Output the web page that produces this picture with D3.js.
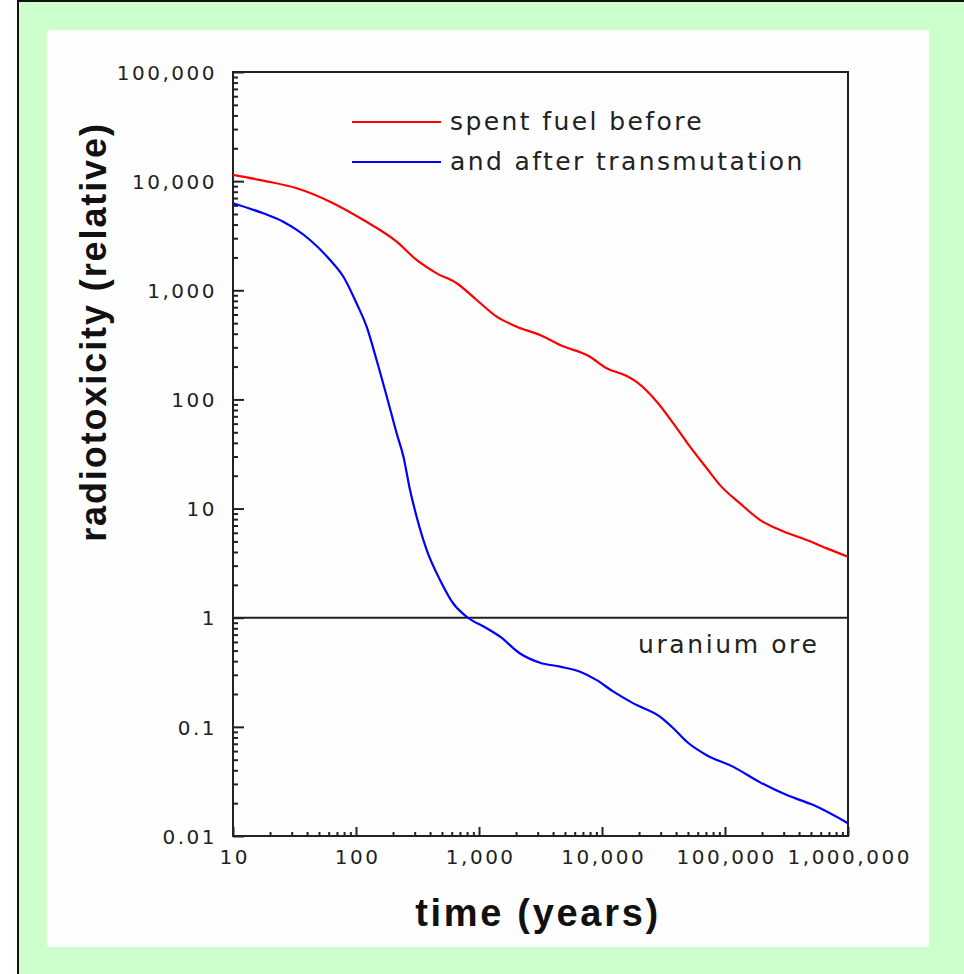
<!DOCTYPE html>
<html>
<head>
<meta charset="utf-8">
<script src="https://cdn.jsdelivr.net/npm/d3@7"></script>
<style>
  html, body { margin: 0; padding: 0; background: #fff; }
  svg { display: block; }
</style>
</head>
<body>
<svg id="chart" width="964" height="974"></svg>
<script>
// Radiotoxicity of spent fuel (relative to uranium ore) versus time
const beforeYears = [10, 17.6, 33, 61.5, 115, 214, 311, 453, 659, 958, 1393, 2026, 3135, 4560, 7980,
  10900, 15900, 19100, 27900, 38000, 51900, 71000, 91000, 132000, 193000, 280000, 461000, 671000, 1000000];
const beforeValues = [11400, 10100, 8600, 6480, 4400, 2790, 1895, 1430, 1160, 815, 573, 464, 389, 315, 246,
  193, 164, 145, 95.3, 60.4, 36.9, 23.4, 16.4, 11.2, 7.85, 6.36, 5.15, 4.32, 3.62];

const afterYears = [10, 17.6, 25.6, 33, 42.3, 61.5, 79, 101, 122, 147, 178, 214, 243, 275, 311, 376, 482, 618, 794,
  1155, 1483, 2155, 3135, 4560, 6630, 9060, 12400, 18000, 29600, 38000, 48900, 71000, 117000, 193000,
  318000, 523000, 1000000];
const afterValues = [6270, 5070, 4250, 3570, 2890, 1895, 1330, 760, 464, 230, 106, 49, 29.9, 14.8, 8.42, 4.17, 2.22,
  1.35, 1.02, 0.80, 0.67, 0.47, 0.387, 0.356, 0.32, 0.268, 0.21, 0.164, 0.124, 0.097, 0.073, 0.055, 0.043,
  0.031, 0.0237, 0.0192, 0.0131];

const xTickValues = [10, 100, 1000, 10000, 100000, 1000000];
const xTickLabels = ["10", "100", "1,000", "10,000", "100,000", "1,000,000"];
const yTickValues = [0.01, 0.1, 1, 10, 100, 1000, 10000, 100000];
const yTickLabels = ["0.01", "0.1", "1", "10", "100", "1,000", "10,000", "100,000"];

const seriesNames = ["spent fuel before", "and after transmutation"];
const seriesColors = ["#ff0000", "#0000ff"];
const referenceLevel = 1;
const referenceLabel = "uranium ore";
const xTitle = "time (years)";
const yTitle = "radiotoxicity (relative)";

const svg = d3.select("#chart");
const W = 964, H = 974;

// page frame: green surround with a white panel
svg.append("rect").attr("x", 0).attr("y", 0).attr("width", W).attr("height", H).attr("fill", "#fff");
svg.append("rect").attr("x", 18).attr("y", 1).attr("width", 960).attr("height", 990)
  .attr("fill", "#ccffcc").attr("stroke", "#111").attr("stroke-width", 2);
svg.append("rect").attr("x", 47).attr("y", 30).attr("width", 882).attr("height", 917).attr("fill", "#fefefe");

const plot = { left: 233, right: 848, top: 72, bottom: 836 };

const x = d3.scaleLog().domain([10, 1e6]).range([plot.left, plot.right]);
const y = d3.scaleLog().domain([0.01, 1e5]).range([plot.bottom, plot.top]);

function minorTicks(domain) {
  const out = [];
  const lo = Math.round(Math.log10(domain[0])), hi = Math.round(Math.log10(domain[1]));
  for (let e = lo; e < hi; e++) {
    for (let k = 2; k <= 9; k++) out.push(k * Math.pow(10, e));
  }
  return out;
}

const tickFont = "'DejaVu Sans', Verdana, sans-serif";
const axisColor = "#222";

// minor ticks (inside the plot)
svg.append("g")
  .attr("transform", `translate(${plot.left},0)`)
  .call(d3.axisLeft(y).tickValues(minorTicks(y.domain())).tickSizeInner(-5).tickSizeOuter(0).tickFormat(""))
  .call(g => g.select(".domain").remove())
  .call(g => g.selectAll("line").attr("stroke", axisColor).attr("stroke-width", 2));

svg.append("g")
  .attr("transform", `translate(0,${plot.bottom})`)
  .call(d3.axisBottom(x).tickValues(minorTicks(x.domain())).tickSizeInner(-4).tickSizeOuter(0).tickFormat(""))
  .call(g => g.select(".domain").remove())
  .call(g => g.selectAll("line").attr("stroke", axisColor).attr("stroke-width", 2));

// major ticks with labels
const yAxis = svg.append("g")
  .attr("transform", `translate(${plot.left},0)`)
  .call(d3.axisLeft(y).tickValues(yTickValues).tickSizeInner(-11).tickSizeOuter(0).tickPadding(16)
    .tickFormat((d, i) => yTickLabels[i]));
yAxis.select(".domain").remove();
yAxis.selectAll("line").attr("stroke", axisColor).attr("stroke-width", 2);
yAxis.selectAll("text")
  .attr("font-family", tickFont).attr("font-size", 20).attr("letter-spacing", 2.5)
  .attr("fill", "#222").attr("dy", "0.36em");

const xAxis = svg.append("g")
  .attr("transform", `translate(0,${plot.bottom})`)
  .call(d3.axisBottom(x).tickValues(xTickValues).tickSizeInner(-9).tickSizeOuter(0).tickPadding(16)
    .tickFormat((d, i) => xTickLabels[i]));
xAxis.select(".domain").remove();
xAxis.selectAll("line").attr("stroke", axisColor).attr("stroke-width", 2);
xAxis.selectAll("text")
  .attr("font-family", tickFont).attr("font-size", 20).attr("letter-spacing", 2.5)
  .attr("fill", "#222").attr("dx", 1.2).attr("dy", "0.62em");

// plot frame
svg.append("rect")
  .attr("x", plot.left).attr("y", plot.top)
  .attr("width", plot.right - plot.left).attr("height", plot.bottom - plot.top)
  .attr("fill", "none").attr("stroke", axisColor).attr("stroke-width", 2);

// uranium ore reference level
svg.append("line")
  .attr("x1", plot.left).attr("x2", plot.right)
  .attr("y1", y(referenceLevel)).attr("y2", y(referenceLevel))
  .attr("stroke", axisColor).attr("stroke-width", 2);
svg.append("text")
  .attr("x", 638).attr("y", y(referenceLevel) + 35)
  .attr("font-family", tickFont).attr("font-size", 25).attr("letter-spacing", 2.6)
  .attr("fill", "#222").text(referenceLabel);

// curves
const line = d3.line().x(d => x(d[0])).y(d => y(d[1])).curve(d3.curveMonotoneX);
const series = [
  d3.zip(beforeYears, beforeValues),
  d3.zip(afterYears, afterValues)
];
series.forEach((pts, i) => {
  svg.append("path").datum(pts)
    .attr("d", line).attr("fill", "none")
    .attr("stroke", seriesColors[i]).attr("stroke-width", 2.2);
});

// legend
const legend = svg.append("g").attr("transform", "translate(352,122)");
seriesNames.forEach((name, i) => {
  const g = legend.append("g").attr("transform", `translate(0,${i * 40})`);
  g.append("line").attr("x1", 0).attr("x2", 89).attr("y1", 0).attr("y2", 0)
    .attr("stroke", seriesColors[i]).attr("stroke-width", 2);
  g.append("text").attr("x", 98).attr("y", 8)
    .attr("font-family", tickFont).attr("font-size", 25).attr("letter-spacing", 2.4)
    .attr("fill", "#222").text(name);
});

// axis titles
const titleFont = "'Liberation Sans', Arial, Helvetica, sans-serif";
svg.append("text")
  .attr("x", 538).attr("y", 926)
  .attr("text-anchor", "middle")
  .attr("font-family", titleFont).attr("font-weight", "bold").attr("font-size", 38)
  .attr("letter-spacing", 2.7).attr("fill", "#111")
  .text(xTitle);
svg.append("text")
  .attr("transform", "translate(106,332) rotate(-90)")
  .attr("text-anchor", "middle")
  .attr("font-family", titleFont).attr("font-weight", "bold").attr("font-size", 36)
  .attr("letter-spacing", 1.9).attr("fill", "#111")
  .text(yTitle);
</script>
</body>
</html>
